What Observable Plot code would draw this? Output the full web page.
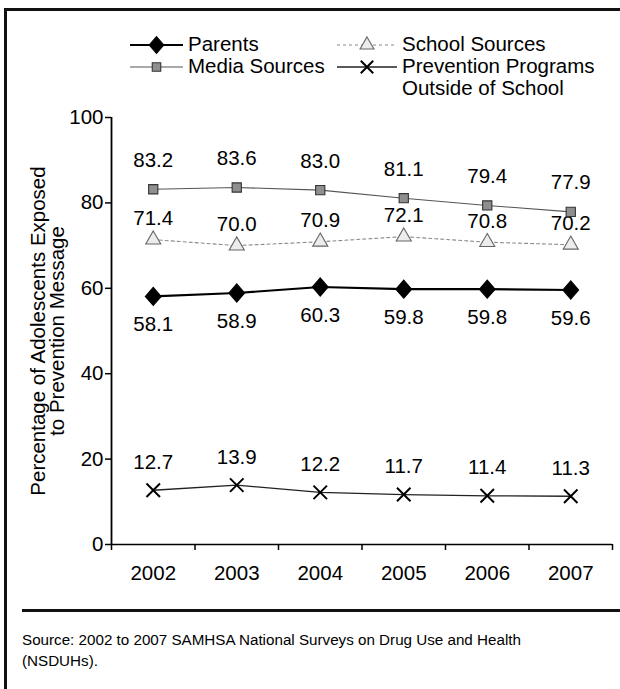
<!DOCTYPE html>
<html>
<head>
<meta charset="utf-8">
<script src="https://cdn.jsdelivr.net/npm/d3@7"></script>
<script src="https://cdn.jsdelivr.net/npm/@observablehq/plot@0.6"></script>
<style>
  html, body { margin: 0; padding: 0; background: #fff; }
  body { font-family: "Liberation Sans", Arial, Helvetica, sans-serif; color: #000; }
  #wrap { position: relative; width: 620px; height: 689px; overflow: hidden; }
  .bar { position: absolute; background: #111; }
  #legend { position: absolute; left: 0; top: 0; width: 620px; height: 100px; font-size: 20.5px; }
  .lg { position: absolute; display: flex; align-items: flex-start; white-space: nowrap; }
  .lg svg { margin-right: 5px; flex: none; }
  #chart { position: absolute; left: 0; top: 95px; }
  #caption { position: absolute; left: 22px; top: 629px; font-size: 15.2px; line-height: 21px; }
</style>
</head>
<body>
<div id="wrap">
  <div class="bar" style="left:4px; top:8px; width:3px; height:681px;"></div>
  <div class="bar" style="left:4px; top:8px; width:616px; height:3px;"></div>
  <div id="legend"></div>
  <div id="chart"></div>
  <div class="bar" style="left:22px; top:609px; width:598px; height:3px;"></div>
  <div id="caption">Source: 2002 to 2007 SAMHSA National Surveys on Drug Use and Health<br>(NSDUHs).</div>
</div>
<script>
// ---- data ----
const years = [2002, 2003, 2004, 2005, 2006, 2007];
const parents = [58.1, 58.9, 60.3, 59.8, 59.8, 59.6];
const schoolSources = [71.4, 70.0, 70.9, 72.1, 70.8, 70.2];
const mediaSources = [83.2, 83.6, 83.0, 81.1, 79.4, 77.9];
const preventionPrograms = [12.7, 13.9, 12.2, 11.7, 11.4, 11.3];
const seriesNames = ["Parents", "School Sources", "Media Sources", "Prevention Programs Outside of School"];
const yTicks = [0, 20, 40, 60, 80, 100];
const yTitle = "Percentage of Adolescents Exposed\nto Prevention Message";

// custom compact diamond (close to the reference's shape)
const diamondSym = {
  draw(ctx, size) {
    const w = Math.sqrt(size / 2.2);
    const h = w * 1.15;
    ctx.moveTo(0, -h); ctx.lineTo(w, 0); ctx.lineTo(0, h); ctx.lineTo(-w, 0); ctx.closePath();
  }
};

// ---- styles per series ----
const styles = {
  "Parents": {stroke: "#000", width: 2.2, dash: null, symbol: diamondSym, fill: "#000", symStroke: "#000", r: 6.6, dy: 28},
  "School Sources": {stroke: "#8a8a8a", width: 1.1, dash: "3,3", symbol: "triangle", fill: "#ececec", symStroke: "#666", r: 5.6, dy: -21},
  "Media Sources": {stroke: "#555", width: 1.1, dash: null, symbol: "square", fill: "#8f8f8f", symStroke: "#333", r: 5.2, dy: -29},
  "Prevention Programs Outside of School": {stroke: "#222", width: 1.3, dash: null, symbol: "times", fill: "none", symStroke: "#000", r: 6.2, dy: -28}
};

const valuesBySeries = [parents, schoolSources, mediaSources, preventionPrograms];
const rows = [];
seriesNames.forEach((s, k) => years.forEach((yr, i) => rows.push({series: s, year: yr, value: valuesBySeries[k][i]})));

const bounds = d3.range(years[0] - 0.5, years[years.length - 1] + 1, 1);
const FS = 20.5;

const marks = [];
// axes lines
marks.push(Plot.ruleY([0], {stroke: "#000", strokeWidth: 1.7}));
marks.push(Plot.ruleX([bounds[0]], {stroke: "#000", strokeWidth: 1.8}));
marks.push(Plot.axisY({ticks: yTicks, tickSize: 6, tickPadding: 2, fontSize: FS, label: null, strokeWidth: 1.5}));
marks.push(Plot.axisX({ticks: bounds, tickSize: 6, tickFormat: () => "", label: null, strokeWidth: 1.5}));
marks.push(Plot.axisX({ticks: years, tickSize: 0, tickPadding: 21, tickFormat: d => String(d), fontSize: FS, label: null}));
// y title (two lines)
marks.push(Plot.text([yTitle], {frameAnchor: "left", text: d => d, rotate: -90, dx: -63, fontSize: FS, lineHeight: 0.95, textAnchor: "middle", fill: "#000"}));

for (const s of seriesNames) {
  const st = styles[s];
  const data = rows.filter(d => d.series === s);
  marks.push(Plot.line(data, {x: "year", y: "value", stroke: st.stroke, strokeWidth: st.width, strokeDasharray: st.dash}));
}
for (const s of seriesNames) {
  const st = styles[s];
  const data = rows.filter(d => d.series === s);
  marks.push(Plot.dot(data, {x: "year", y: "value", symbol: st.symbol, r: st.r, fill: st.fill, stroke: st.symStroke, strokeWidth: st.symbol === "times" ? 2 : 1.1}));
  marks.push(Plot.text(data, {x: "year", y: "value", text: d => d.value.toFixed(1), dy: st.dy, fontSize: FS, fill: "#000"}));
}

const chart = Plot.plot({
  width: 620,
  height: 505,
  marginTop: 22,
  marginBottom: 56,
  marginLeft: 111,
  marginRight: 8,
  style: {fontFamily: "'Liberation Sans', Arial, sans-serif", color: "#000", background: "transparent"},
  x: {type: "linear", domain: [bounds[0], bounds[bounds.length - 1]], axis: null},
  y: {domain: [0, 100], axis: null},
  marks
});
document.getElementById("chart").appendChild(chart);

// ---- legend (HTML with small symbol svgs) ----
const legendItems = [
  {name: "Parents", label: "Parents", left: 130, top: 33, w: 53},
  {name: "Media Sources", label: "Media Sources", left: 130, top: 55, w: 53},
  {name: "School Sources", label: "School Sources", left: 337, top: 33, w: 60},
  {name: "Prevention Programs Outside of School", label: "Prevention Programs\nOutside of School", left: 337, top: 55, w: 60}
];
const symMap = {triangle: d3.symbolTriangle, square: d3.symbolSquare, times: d3.symbolTimes};
const legend = d3.select("#legend");
for (const it of legendItems) {
  const st = styles[it.name];
  const w = it.w;
  const div = legend.append("div").attr("class", "lg").style("left", it.left + "px").style("top", it.top + "px");
  const svg = div.append("svg").attr("width", w).attr("height", 22);
  svg.append("line").attr("x1", 0).attr("x2", w).attr("y1", 12).attr("y2", 12)
    .attr("stroke", st.stroke).attr("stroke-width", st.width).attr("stroke-dasharray", st.dash);
  const area = Math.PI * st.r * st.r * 0.85;
  const symType = typeof st.symbol === "string" ? symMap[st.symbol] : st.symbol;
  svg.append("path").attr("transform", `translate(${w / 2},12)`)
    .attr("d", d3.symbol(symType, area)())
    .attr("fill", st.fill).attr("stroke", st.symStroke).attr("stroke-width", st.symbol === "times" ? 2 : 1.1);
  const t = div.append("div").style("line-height", "21.5px");
  it.label.split("\n").forEach(l => t.append("div").text(l));
}
</script>
</body>
</html>
